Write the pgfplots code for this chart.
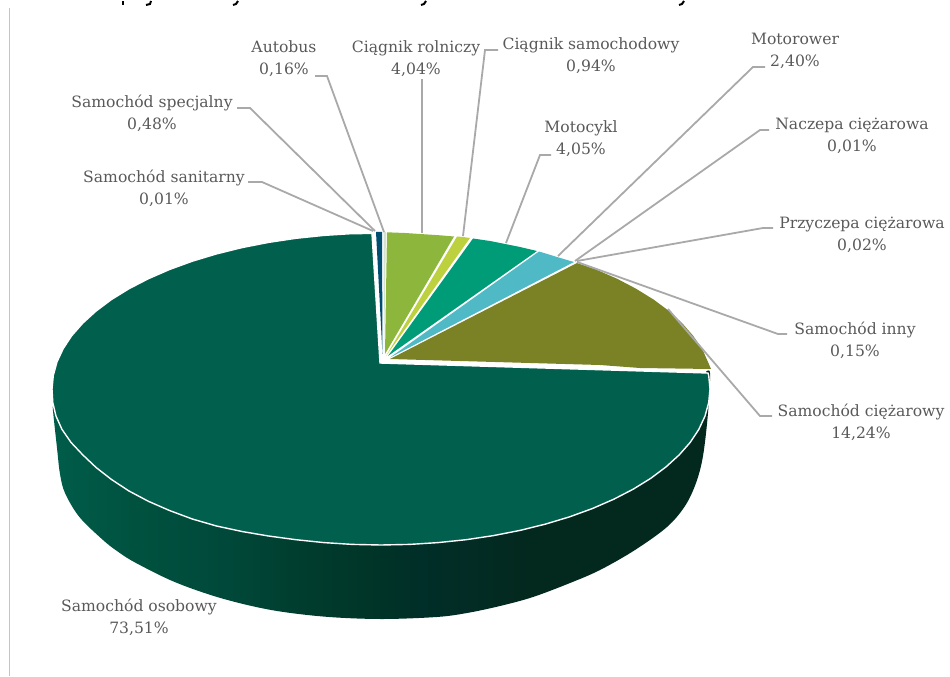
\documentclass[border=0pt]{standalone}
\usepackage{fontspec}
\setmainfont{DejaVu Serif}
\usepackage{pgfplots}
\pgfplotsset{compat=1.18}
\definecolor{osobowy}{HTML}{01604D}
\definecolor{ciezarowy}{HTML}{7B8125}
\definecolor{motorower}{HTML}{4FB9C6}
\definecolor{motocykl}{HTML}{009B77}
\definecolor{samochodowy}{HTML}{BDD13F}
\definecolor{rolniczy}{HTML}{8CB63C}
\definecolor{autobus}{HTML}{D3E3CF}
\definecolor{specjalny}{HTML}{004F70}
\definecolor{leader}{HTML}{A9A9A9}
\definecolor{labeltext}{HTML}{595959}
\definecolor{axisline}{HTML}{C4C4C4}
\pgfdeclarehorizontalshading{wallshade}{100bp}{
  rgb(0bp)=(0,0.361,0.290);
  rgb(25bp)=(0,0.361,0.290);
  rgb(31bp)=(0,0.322,0.247);
  rgb(38bp)=(0,0.286,0.227);
  rgb(44bp)=(0,0.239,0.180);
  rgb(49bp)=(0,0.208,0.157);
  rgb(53bp)=(0,0.180,0.157);
  rgb(57bp)=(0.008,0.172,0.141);
  rgb(61bp)=(0.012,0.157,0.118);
  rgb(100bp)=(0.012,0.157,0.118)}
\tikzset{
  lab/.style={font=\fontsize{15.6}{22}\selectfont, text=labeltext, align=center, inner sep=0pt},
  wedge/.style={no markers, draw=none},
  lead/.style={no markers, color=leader, line width=1.8pt},
}
\begin{document}
\begin{tikzpicture}
\begin{axis}[
    scale only axis, width=950pt, height=675pt,
    xmin=0, xmax=950, ymin=0, ymax=675,
    y dir=reverse, hide axis, clip=false,
]
% hide axis drops the axis box from the page size, so keep it here
\path (axis cs:0,0) rectangle (axis cs:950,675);
% frame line left over from the crop, and descenders of the cut-off title
\addplot[no markers, color=axisline, line width=1pt] coordinates {(9.5,7) (9.5,675)};
\addplot[no markers, black, line width=2pt] coordinates {(123,0) (123,4)};
\addplot[no markers, black, line width=2pt] coordinates {(151,0) (150,3) (146,4)};
\addplot[no markers, black, line width=2pt] coordinates {(238,0) (236,3) (233,4)};
\addplot[no markers, black, line width=2pt] coordinates {(426,0) (424,3) (421,4)};
\addplot[no markers, black, line width=2pt] coordinates {(684,0) (682,3) (679,4)};

% side wall
\addplot[no markers, draw=none, shading=wallshade, smooth, tension=0.55] coordinates {
  (53,405) (53,410) (57,447) (60,473) (65,492) (79.4,516) (103,539) (117,550) (135.1,561.5)
  (174.7,581) (220.5,597) (271.2,609) (325.3,615.7) (381,618) (436.7,616)
  (467,612) (500,605) (533,596) (570,582) (600,569) (635,549) (667,526) (685,505)
  (696,482) (703,455) (708,412) (710,372) (705,372)
} --cycle;

% Samochod osobowy 73,51
\addplot[wedge, fill=osobowy, draw=white, line width=1.4pt] coordinates {
  (380,362) (372,232.5) (352.3,232.6) (323.9,234.4) (295.9,237.3) (268.5,241.4)
  (242,246.6) (216.5,252.9) (192.3,260.2) (169.5,268.5) (148.4,277.7) (129,287.7)
  (111.5,298.5) (96.1,310) (82.8,322.1) (71.8,334.6) (63.2,347.6) (57,360.9)
  (53.3,374.4) (52,388) (52.8,401.6) (56,415.1) (62,428.4) (71,441.4)
  (82.8,453.9) (96.1,466.5) (111.5,478.5) (129,490) (148.4,500.3) (169.5,509.5)
  (192.3,518) (216.5,525) (242,530.5) (268.5,535) (295.9,538.7) (323.9,541.6)
  (352.3,543.4) (381,544) (409.7,543.4) (438.1,541.6) (466.1,538.7) (493.5,534.6)
  (520,529.4) (545.5,523.1) (569.7,515.8) (592.5,507.5) (613.6,498.3) (633,488.3)
  (650.5,477.5) (665.9,466) (679.2,453.9) (690.2,441.4) (698.8,428.4) (705,415.1)
  (708.7,401.6) (710,388) (708.7,374.4) (708,372)
} --cycle;
% Samochod ciezarowy 14,24
\addplot[wedge, fill=ciezarowy] coordinates {
  (390,358) (577,262) (596,268.5) (617,277.7) (636,287.7) (653.5,298.5) (669,310)
  (682,322) (693,334.6) (702,347.6) (708,361) (711,368) (640,367) (600,364)
} --cycle;
% Motorower 2,40
\addplot[wedge, fill=motorower] coordinates {
  (390,356.5) (539,250.5) (548,253.2) (557,256) (566,258.7) (574,261)
} --cycle;
% Motocykl 4,05
\addplot[wedge, fill=motocykl] coordinates {
  (388,355) (473,237.5) (490,240) (505,243) (520,246) (537,250)
} --cycle;
% Ciagnik samochodowy 0,94
\addplot[wedge, fill=samochodowy] coordinates {
  (386,355) (457,235.5) (463,236) (470,237)
} --cycle;
% Ciagnik rolniczy 4,04
\addplot[wedge, fill=rolniczy] coordinates {
  (385,353) (387,231.3) (405,232) (420,233) (440,234.3) (454,235.5)
} --cycle;
% Autobus 0,16
\addplot[wedge, fill=autobus] coordinates {(384,353) (383.5,231) (386,231)} --cycle;
% Samochod specjalny 0,48
\addplot[wedge, fill=specjalny] coordinates {(382.5,353) (376,231) (382,231)} --cycle;

% leader lines
\addplot[lead] coordinates {(237,107) (250,107) (375,230)};
\addplot[lead] coordinates {(248,181) (262,181) (373,230)};
\addplot[lead] coordinates {(315,75) (327,75) (384,231)};
\addplot[lead] coordinates {(421.7,78) (421.7,232)};
\addplot[lead] coordinates {(498,49) (485,49) (463,235)};
\addplot[lead] coordinates {(551,154) (540,154) (506,242)};
\addplot[lead] coordinates {(765,66) (753,66) (558,255)};
\addplot[lead] coordinates {(769,129) (760,129) (575,260)};
\addplot[lead] coordinates {(773,227) (763,227) (577,260)};
\addplot[lead] coordinates {(577,261) (778,333) (787,333)};
\addplot[lead] coordinates {(668,308) (760,415) (772,415)};

\node[lab] at (axis cs:284,58) {Autobus\\0,16\%};
\node[lab] at (axis cs:416,58) {Ciągnik rolniczy\\4,04\%};
\node[lab] at (axis cs:591,54.5) {Ciągnik samochodowy\\0,94\%};
\node[lab] at (axis cs:795,49.5) {Motorower\\2,40\%};
\node[lab] at (axis cs:152,112.5) {Samochód specjalny\\0,48\%};
\node[lab] at (axis cs:164,187) {Samochód sanitarny\\0,01\%};
\node[lab] at (axis cs:581,138) {Motocykl\\4,05\%};
\node[lab] at (axis cs:852,135) {Naczepa ciężarowa\\0,01\%};
\node[lab] at (axis cs:862,233.5) {Przyczepa ciężarowa\\0,02\%};
\node[lab] at (axis cs:855,339) {Samochód inny\\0,15\%};
\node[lab] at (axis cs:861,421) {Samochód ciężarowy\\14,24\%};
\node[lab] at (axis cs:139,616) {Samochód osobowy\\73,51\%};
\end{axis}
\end{tikzpicture}
\end{document}
